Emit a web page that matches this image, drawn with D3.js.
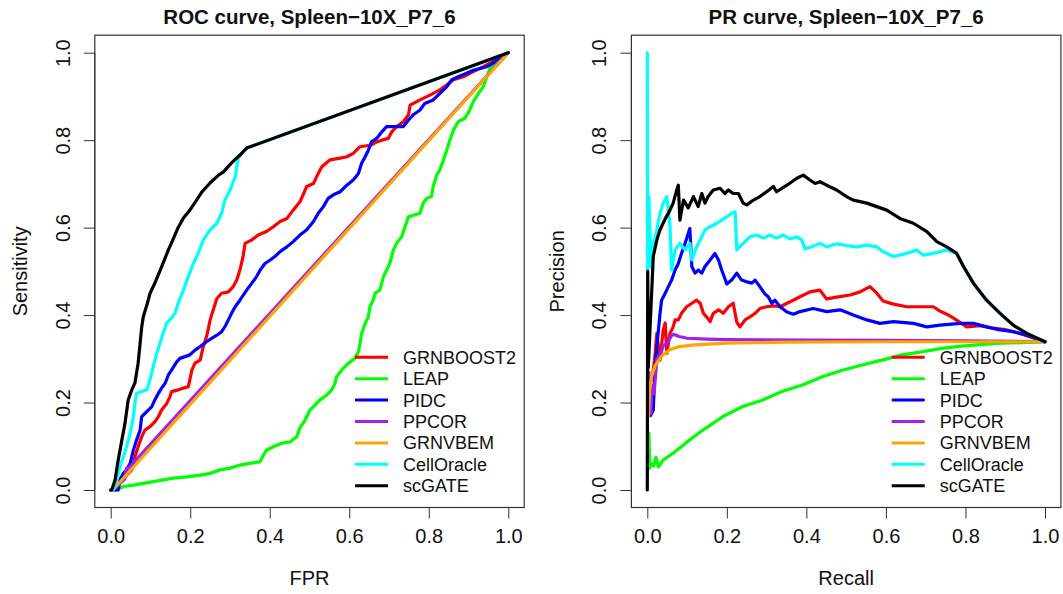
<!DOCTYPE html>
<html>
<head>
<meta charset="utf-8">
<script src="https://cdn.jsdelivr.net/npm/d3@7"></script>
<style>
  html, body { margin: 0; padding: 0; background: #fff; }
  svg { display: block; font-family: "Liberation Sans", Arial, Helvetica, sans-serif; }
</style>
</head>
<body>
<svg id="chart" width="1063" height="594"></svg>
<script>
// Methods, in drawing / legend order
const methods = ["GRNBOOST2", "LEAP", "PIDC", "PPCOR", "GRNVBEM", "CellOracle", "scGATE"];
const methodColors = ["#FF0000", "#00FF00", "#0000FF", "#A020F0", "#FFA500", "#00FFFF", "#000000"];
const tickValues = [0, 0.2, 0.4, 0.6, 0.8, 1.0];

// ROC curves: [FPR, sensitivity]
const rocGRNBOOST2 = [[0,0],[0.011,0],[0.023,0.016],[0.036,0.030],[0.053,0.046],[0.061,0.076],[0.069,0.099],[0.078,0.122],[0.086,0.137],[0.099,0.145],[0.111,0.156],[0.120,0.168],[0.128,0.183],[0.141,0.198],[0.149,0.213],[0.153,0.225],[0.170,0.229],[0.183,0.233],[0.195,0.236],[0.199,0.252],[0.204,0.274],[0.212,0.290],[0.225,0.297],[0.229,0.313],[0.233,0.328],[0.241,0.351],[0.245,0.366],[0.250,0.389],[0.258,0.412],[0.267,0.438],[0.279,0.450],[0.296,0.453],[0.308,0.465],[0.317,0.480],[0.325,0.503],[0.333,0.534],[0.338,0.564],[0.355,0.572],[0.371,0.583],[0.392,0.591],[0.409,0.602],[0.426,0.614],[0.443,0.621],[0.459,0.640],[0.476,0.659],[0.493,0.694],[0.510,0.701],[0.522,0.724],[0.531,0.739],[0.552,0.755],[0.577,0.759],[0.594,0.762],[0.610,0.770],[0.627,0.785],[0.656,0.789],[0.669,0.796],[0.682,0.800],[0.698,0.804],[0.707,0.819],[0.719,0.831],[0.736,0.842],[0.749,0.858],[0.753,0.880],[0.778,0.892],[0.803,0.903],[0.828,0.915],[0.845,0.926],[0.862,0.938],[0.887,0.945],[0.912,0.957],[0.937,0.968],[0.962,0.980],[0.979,0.991],[1,1]];
const rocLEAP = [[0,0],[0.015,0],[0.032,0.008],[0.057,0.011],[0.082,0.015],[0.107,0.019],[0.132,0.023],[0.157,0.027],[0.191,0.030],[0.225,0.034],[0.250,0.038],[0.275,0.046],[0.300,0.050],[0.325,0.057],[0.350,0.061],[0.376,0.065],[0.384,0.080],[0.392,0.091],[0.409,0.099],[0.430,0.107],[0.451,0.110],[0.468,0.122],[0.476,0.142],[0.489,0.160],[0.501,0.183],[0.514,0.194],[0.526,0.206],[0.543,0.217],[0.556,0.229],[0.564,0.244],[0.568,0.259],[0.581,0.274],[0.598,0.290],[0.614,0.301],[0.623,0.316],[0.627,0.335],[0.631,0.358],[0.640,0.381],[0.648,0.396],[0.652,0.419],[0.660,0.434],[0.665,0.450],[0.677,0.457],[0.686,0.488],[0.694,0.503],[0.702,0.518],[0.711,0.549],[0.719,0.564],[0.732,0.579],[0.740,0.602],[0.749,0.625],[0.778,0.633],[0.786,0.656],[0.795,0.667],[0.807,0.671],[0.811,0.694],[0.820,0.720],[0.828,0.732],[0.837,0.755],[0.845,0.777],[0.853,0.800],[0.862,0.823],[0.874,0.842],[0.891,0.850],[0.903,0.869],[0.912,0.888],[0.925,0.907],[0.937,0.922],[0.946,0.945],[0.954,0.964],[0.967,0.976],[0.979,0.987],[0.992,0.995],[1,1]];
const rocPIDC = [[0,0],[0.019,0],[0.023,0.023],[0.032,0.038],[0.040,0.046],[0.049,0.061],[0.057,0.091],[0.065,0.114],[0.074,0.137],[0.078,0.168],[0.086,0.175],[0.095,0.183],[0.103,0.190],[0.111,0.206],[0.120,0.221],[0.128,0.233],[0.137,0.244],[0.145,0.263],[0.153,0.274],[0.166,0.293],[0.174,0.301],[0.187,0.305],[0.199,0.309],[0.212,0.320],[0.225,0.328],[0.241,0.339],[0.254,0.347],[0.267,0.354],[0.279,0.362],[0.287,0.373],[0.296,0.389],[0.304,0.404],[0.313,0.419],[0.325,0.434],[0.342,0.457],[0.355,0.473],[0.367,0.488],[0.376,0.503],[0.388,0.518],[0.401,0.526],[0.413,0.534],[0.426,0.545],[0.443,0.556],[0.459,0.568],[0.476,0.583],[0.493,0.595],[0.510,0.614],[0.522,0.633],[0.535,0.648],[0.547,0.667],[0.560,0.675],[0.577,0.682],[0.594,0.697],[0.610,0.709],[0.623,0.724],[0.631,0.747],[0.640,0.762],[0.648,0.777],[0.656,0.796],[0.669,0.804],[0.682,0.819],[0.694,0.831],[0.736,0.831],[0.749,0.846],[0.761,0.858],[0.778,0.869],[0.790,0.884],[0.811,0.892],[0.828,0.907],[0.845,0.922],[0.858,0.938],[0.874,0.945],[0.895,0.953],[0.912,0.960],[0.929,0.964],[0.946,0.968],[0.962,0.976],[0.975,0.987],[0.987,0.991],[1,1]];
const rocPPCOR = [[0,0],[0.005,0],[0.035,0.025],[0.040,0.050],[0.045,0.050],[1,1]];
const rocGRNVBEM = [[0,0],[0.005,0],[1,1]];
const rocCellOracle = [[0,0],[0.0065,0],[0.015,0.023],[0.023,0.053],[0.032,0.076],[0.040,0.099],[0.049,0.130],[0.057,0.168],[0.061,0.199],[0.065,0.221],[0.078,0.225],[0.091,0.229],[0.099,0.252],[0.107,0.282],[0.116,0.313],[0.124,0.336],[0.132,0.359],[0.141,0.382],[0.153,0.393],[0.162,0.405],[0.170,0.428],[0.183,0.457],[0.195,0.488],[0.208,0.518],[0.220,0.541],[0.233,0.572],[0.250,0.595],[0.267,0.610],[0.279,0.633],[0.287,0.663],[0.296,0.678],[0.304,0.694],[0.313,0.716],[0.317,0.739],[0.321,0.759],[0.333,0.774],[0.342,0.782],[1,1]];
const rocScGATE = [[0,0],[0.0025,0],[0.011,0.023],[0.019,0.069],[0.028,0.114],[0.036,0.153],[0.044,0.206],[0.053,0.229],[0.061,0.245],[0.069,0.290],[0.074,0.336],[0.078,0.373],[0.082,0.396],[0.090,0.420],[0.099,0.450],[0.111,0.473],[0.128,0.510],[0.145,0.549],[0.153,0.565],[0.170,0.601],[0.183,0.622],[0.199,0.640],[0.216,0.663],[0.229,0.681],[0.250,0.702],[0.271,0.720],[0.283,0.727],[0.304,0.748],[0.325,0.766],[0.342,0.782],[1,1]];

// PR curves: [recall, precision]
const prGRNBOOST2 = [[0.010,0.250],[0.015,0.274],[0.019,0.305],[0.024,0.358],[0.032,0.297],[0.040,0.366],[0.045,0.382],[0.049,0.313],[0.057,0.358],[0.065,0.373],[0.070,0.389],[0.078,0.389],[0.086,0.404],[0.099,0.419],[0.112,0.427],[0.124,0.434],[0.133,0.427],[0.141,0.404],[0.149,0.396],[0.158,0.385],[0.166,0.404],[0.179,0.412],[0.191,0.404],[0.204,0.419],[0.216,0.427],[0.225,0.384],[0.233,0.373],[0.246,0.389],[0.258,0.396],[0.271,0.404],[0.283,0.415],[0.300,0.419],[0.317,0.421],[0.334,0.419],[0.351,0.427],[0.367,0.434],[0.384,0.442],[0.409,0.453],[0.434,0.457],[0.451,0.437],[0.476,0.441],[0.510,0.446],[0.535,0.453],[0.560,0.465],[0.577,0.450],[0.593,0.432],[0.619,0.425],[0.652,0.419],[0.686,0.419],[0.719,0.419],[0.736,0.409],[0.753,0.402],[0.770,0.393],[0.803,0.373],[0.837,0.376],[0.870,0.370],[0.904,0.366],[0.937,0.358],[1,0.339]];
const prLEAP = [[0.004,0.130],[0.006,0.050],[0.010,0.060],[0.016,0.055],[0.022,0.075],[0.028,0.053],[0.040,0.069],[0.065,0.084],[0.100,0.110],[0.140,0.137],[0.190,0.168],[0.240,0.191],[0.290,0.206],[0.340,0.226],[0.390,0.240],[0.440,0.259],[0.490,0.274],[0.540,0.286],[0.590,0.297],[0.640,0.309],[0.690,0.316],[0.740,0.324],[0.790,0.329],[0.875,0.335],[1,0.339]];
const prPIDC = [[0.008,0.170],[0.015,0.183],[0.019,0.268],[0.024,0.328],[0.028,0.366],[0.032,0.404],[0.036,0.434],[0.045,0.450],[0.053,0.465],[0.061,0.480],[0.070,0.503],[0.078,0.518],[0.086,0.541],[0.095,0.564],[0.103,0.587],[0.107,0.598],[0.112,0.511],[0.120,0.496],[0.128,0.503],[0.137,0.496],[0.145,0.511],[0.158,0.526],[0.170,0.541],[0.179,0.526],[0.187,0.503],[0.200,0.471],[0.212,0.480],[0.225,0.496],[0.237,0.480],[0.250,0.476],[0.263,0.473],[0.271,0.480],[0.283,0.465],[0.296,0.448],[0.304,0.442],[0.313,0.427],[0.321,0.434],[0.334,0.419],[0.351,0.407],[0.367,0.402],[0.384,0.408],[0.417,0.415],[0.451,0.408],[0.485,0.412],[0.518,0.400],[0.552,0.389],[0.585,0.381],[0.619,0.385],[0.669,0.381],[0.703,0.373],[0.736,0.377],[0.786,0.381],[0.820,0.381],[0.853,0.373],[0.887,0.366],[0.920,0.362],[0.954,0.354],[1,0.339]];
const prPPCOR = [[0.004,0.270],[0.009,0.175],[0.012,0.240],[0.017,0.220],[0.024,0.300],[0.032,0.305],[0.040,0.330],[0.050,0.335],[0.060,0.352],[0.066,0.356],[0.080,0.351],[0.100,0.347],[0.150,0.345],[0.200,0.344],[0.400,0.343],[0.600,0.342],[0.800,0.341],[1,0.339]];
const prGRNVBEM = [[0.003,0.170],[0.006,0.230],[0.011,0.260],[0.020,0.285],[0.035,0.305],[0.055,0.320],[0.080,0.328],[0.120,0.332],[0.200,0.336],[0.350,0.338],[0.600,0.339],[1,0.339]];
const prCellOracle = [[0,1.0],[0.001,0.500],[0.004,0.671],[0.009,0.511],[0.015,0.560],[0.024,0.595],[0.032,0.633],[0.040,0.656],[0.049,0.671],[0.057,0.606],[0.061,0.503],[0.070,0.549],[0.082,0.564],[0.095,0.549],[0.107,0.564],[0.112,0.526],[0.124,0.556],[0.137,0.579],[0.145,0.595],[0.158,0.602],[0.175,0.610],[0.187,0.617],[0.200,0.625],[0.212,0.633],[0.221,0.636],[0.225,0.549],[0.241,0.564],[0.258,0.579],[0.275,0.583],[0.292,0.576],[0.308,0.583],[0.325,0.576],[0.342,0.583],[0.359,0.574],[0.376,0.579],[0.388,0.572],[0.397,0.551],[0.413,0.556],[0.434,0.564],[0.451,0.556],[0.476,0.563],[0.501,0.559],[0.527,0.556],[0.552,0.560],[0.577,0.556],[0.593,0.545],[0.619,0.534],[0.652,0.541],[0.677,0.549],[0.694,0.537],[0.719,0.541],[0.753,0.549],[0.778,0.541],[0.795,0.511],[0.820,0.473],[0.853,0.434],[0.887,0.404],[0.920,0.377],[0.954,0.358],[1,0.339]];
const prScGATE = [[0,0],[0.001,0.500],[0.0025,0.280],[0.015,0.534],[0.024,0.572],[0.032,0.595],[0.045,0.620],[0.057,0.640],[0.065,0.656],[0.074,0.686],[0.078,0.697],[0.082,0.617],[0.091,0.663],[0.103,0.645],[0.116,0.671],[0.128,0.648],[0.137,0.678],[0.145,0.656],[0.153,0.671],[0.166,0.686],[0.183,0.690],[0.195,0.678],[0.204,0.686],[0.216,0.678],[0.229,0.678],[0.241,0.656],[0.250,0.652],[0.267,0.663],[0.283,0.671],[0.300,0.682],[0.317,0.694],[0.325,0.682],[0.351,0.697],[0.376,0.713],[0.392,0.720],[0.409,0.709],[0.422,0.701],[0.434,0.705],[0.451,0.697],[0.476,0.686],[0.501,0.671],[0.518,0.663],[0.552,0.656],[0.577,0.648],[0.602,0.640],[0.635,0.621],[0.669,0.610],[0.703,0.591],[0.728,0.568],[0.753,0.556],[0.778,0.541],[0.795,0.511],[0.820,0.473],[0.853,0.434],[0.887,0.404],[0.920,0.377],[0.954,0.358],[1,0.339]];

const rocSeries = [rocGRNBOOST2, rocLEAP, rocPIDC, rocPPCOR, rocGRNVBEM, rocCellOracle, rocScGATE];
const prSeries = [prGRNBOOST2, prLEAP, prPIDC, prPPCOR, prGRNVBEM, prCellOracle, prScGATE];

const svg = d3.select("#chart");

const panels = [
  { title: "ROC curve, Spleen\u221210X_P7_6", xLabel: "FPR", yLabel: "Sensitivity",
    series: rocSeries, x0: 110.7, x1: 508.3, yAxisLabelX: 20, legendX: 355 },
  { title: "PR curve, Spleen\u221210X_P7_6", xLabel: "Recall", yLabel: "Precision",
    series: prSeries, x0: 647.3, x1: 1045, yAxisLabelX: 557, legendX: 891.7 }
];

const yTop = 52.7, yBottom = 490;

panels.forEach(p => {
  const x = d3.scaleLinear().domain([0, 1]).range([p.x0, p.x1]);
  const y = d3.scaleLinear().domain([0, 1]).range([yBottom, yTop]);
  const g = svg.append("g");

  // plot frame with R-style 4% padding
  const bx0 = x(-0.04), bx1 = x(1.04), by0 = y(1.04), by1 = y(-0.04);
  g.append("rect")
    .attr("x", bx0).attr("y", by0)
    .attr("width", bx1 - bx0).attr("height", by1 - by0)
    .attr("fill", "none").attr("stroke", "#333").attr("stroke-width", 1.2);

  // x axis
  const xAxis = d3.axisBottom(x).tickValues(tickValues).tickFormat(d3.format(".1f"))
    .tickSize(11).tickPadding(10);
  const gx = g.append("g").attr("transform", `translate(0,${by1})`).call(xAxis);
  gx.select(".domain").attr("d", `M${x(0)},0H${x(1)}`).attr("stroke", "#333");
  gx.selectAll(".tick line").attr("stroke", "#333");
  gx.selectAll(".tick text").attr("font-size", 20).attr("fill", "#111")
    .attr("font-family", "Liberation Sans, Arial, sans-serif");

  // y axis, labels parallel to the axis
  const yAxis = d3.axisLeft(y).tickValues(tickValues).tickFormat(d3.format(".1f"))
    .tickSize(11).tickPadding(0);
  const gy = g.append("g").attr("transform", `translate(${bx0},0)`).call(yAxis);
  gy.select(".domain").attr("d", `M0,${y(0)}V${y(1)}`).attr("stroke", "#333");
  gy.selectAll(".tick line").attr("stroke", "#333");
  gy.selectAll(".tick text")
    .attr("font-size", 20).attr("fill", "#111")
    .attr("font-family", "Liberation Sans, Arial, sans-serif")
    .attr("x", null).attr("dy", null)
    .attr("text-anchor", "middle")
    .attr("transform", "translate(-25,0) rotate(-90)");

  // title
  g.append("text")
    .attr("x", (bx0 + bx1) / 2).attr("y", 24)
    .attr("text-anchor", "middle").attr("font-weight", "bold")
    .attr("font-size", 20.5).attr("fill", "#111")
    .text(p.title);

  // axis titles
  g.append("text")
    .attr("x", (bx0 + bx1) / 2).attr("y", 585)
    .attr("text-anchor", "middle").attr("font-size", 20).attr("fill", "#111")
    .text(p.xLabel);
  g.append("text")
    .attr("transform", `translate(${p.yAxisLabelX},${(by0 + by1) / 2}) rotate(-90)`)
    .attr("text-anchor", "middle").attr("dy", "0.35em")
    .attr("font-size", 20).attr("fill", "#111")
    .text(p.yLabel);

  // curves
  const line = d3.line().x(d => x(d[0])).y(d => y(d[1]));
  p.series.forEach((s, i) => {
    g.append("path")
      .attr("d", line(s))
      .attr("fill", "none")
      .attr("stroke", methodColors[i])
      .attr("stroke-width", 3.2)
      .attr("stroke-linejoin", "round")
      .attr("stroke-linecap", "round");
  });

  // legend
  const lg = g.append("g");
  methods.forEach((m, i) => {
    const ly = 357.3 + i * 21.4;
    lg.append("line")
      .attr("x1", p.legendX).attr("x2", p.legendX + 33)
      .attr("y1", ly).attr("y2", ly)
      .attr("stroke", methodColors[i]).attr("stroke-width", 3);
    lg.append("text")
      .attr("x", p.legendX + 48).attr("y", ly).attr("dy", "0.36em")
      .attr("font-size", 18).attr("fill", "#111")
      .text(m);
  });
});
</script>
</body>
</html>
